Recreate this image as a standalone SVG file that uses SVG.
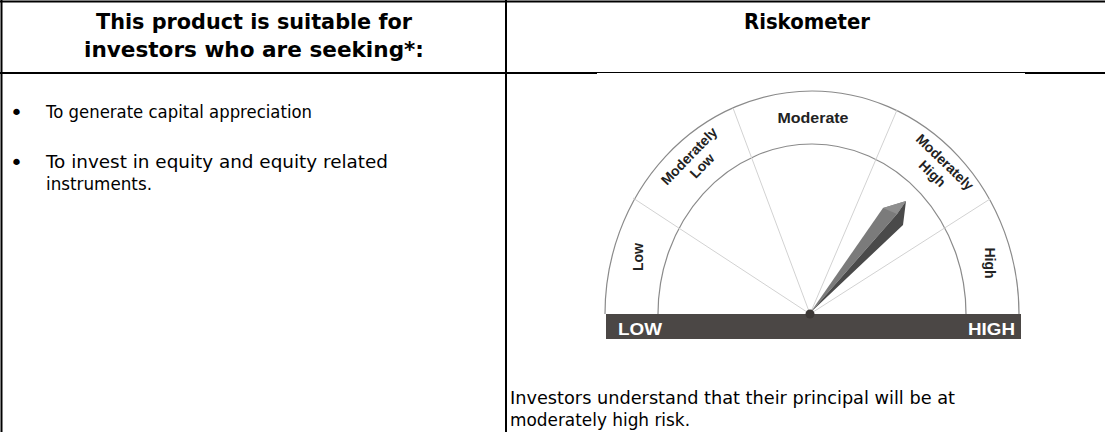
<svg xmlns="http://www.w3.org/2000/svg" width="1105" height="432" viewBox="0 0 1105 432">
<style>
.hd{font-family:"DejaVu Sans","Liberation Sans",sans-serif;font-weight:bold;font-size:21px;fill:#000;text-anchor:middle}
.bd{font-family:"DejaVu Sans","Liberation Sans",sans-serif;font-size:18px;fill:#000}
.bl{font-family:"DejaVu Sans","Liberation Sans",sans-serif;font-size:22px;fill:#000}
.rl{font-family:"Liberation Sans","Arial",sans-serif;font-weight:bold;font-size:14px;fill:#222;text-anchor:middle}
.bar{font-family:"Liberation Sans","Arial",sans-serif;font-weight:bold;font-size:16.5px;fill:#fff}
.grid{stroke:#000;stroke-width:2;fill:none}
.arc{stroke:#8a8a8a;stroke-width:1.2;fill:none}
.div{stroke:#d2d2d2;stroke-width:1}
</style>
<rect x="0" y="0" width="1105" height="432" fill="#fff"/>
<g id="table">
<line class="grid" x1="0" y1="1.5" x2="1105" y2="1.5"/>
<line class="grid" x1="1.5" y1="0" x2="1.5" y2="432"/>
<line class="grid" x1="506" y1="0" x2="506" y2="432"/>
<line class="grid" x1="0" y1="73" x2="597" y2="73"/>
<line class="grid" x1="1025" y1="73" x2="1105" y2="73"/>
<line stroke="#000" stroke-width="1" x1="597" y1="72.5" x2="1025" y2="72.5"/>
</g>
<g id="header-left">
<text class="hd" x="254" y="29" textLength="316" lengthAdjust="spacingAndGlyphs">This product is suitable for</text>
<text class="hd" x="254" y="57" textLength="340" lengthAdjust="spacingAndGlyphs">investors who are seeking*:</text>
</g>
<g id="header-right">
<text class="hd" x="807" y="29" textLength="126" lengthAdjust="spacingAndGlyphs">Riskometer</text>
</g>
<g id="objectives">
<text class="bl" x="10" y="120">•</text>
<text class="bd" x="46" y="118" textLength="266" lengthAdjust="spacingAndGlyphs">To generate capital appreciation</text>
<text class="bl" x="10" y="170">•</text>
<text class="bd" x="46" y="168" textLength="342" lengthAdjust="spacingAndGlyphs">To  invest in equity and equity related</text>
<text class="bd" x="46" y="190" textLength="106" lengthAdjust="spacingAndGlyphs">instruments.</text>
</g>
<g id="riskometer">
<path class="arc" d="M605 314 A207 223 0 0 1 1019 314"/>
<path class="arc" d="M658 314 A154 170 0 0 1 966 314"/>
<line class="div" x1="810" y1="314" x2="633" y2="198"/>
<line class="div" x1="810" y1="314" x2="733" y2="108"/>
<line class="div" x1="810" y1="314" x2="897" y2="110"/>
<line class="div" x1="810" y1="314" x2="990" y2="199"/>
<text class="rl" x="813" y="123" textLength="71" lengthAdjust="spacingAndGlyphs">Moderate</text>
<g transform="translate(689,156) rotate(-46)">
<text class="rl" x="0" y="5">Moderately</text>
<text class="rl" x="2" y="21">Low</text>
</g>
<g transform="translate(945,162) rotate(44)">
<text class="rl" x="0" y="5">Moderately</text>
<text class="rl" x="-1" y="22">High</text>
</g>
<text class="rl" transform="translate(637.5,257) rotate(-90)" x="0" y="5">Low</text>
<text class="rl" transform="translate(990,263) rotate(90)" x="0" y="5">High</text>
<rect x="606" y="314" width="415" height="25" fill="#4b4745"/>
<text class="bar" x="618" y="335" textLength="44" lengthAdjust="spacingAndGlyphs">LOW</text>
<text class="bar" x="968" y="335" textLength="47" lengthAdjust="spacingAndGlyphs">HIGH</text>
<g id="needle">
<polygon points="810,313 883,208 906,201 897,214" fill="#7b7b7b"/>
<polygon points="810,313 897,214 906,201 903,225" fill="#4a4a4a"/>
<polygon points="883,208 906,201 897,214" fill="#8e8e8e"/>
</g>
<circle cx="810" cy="314" r="4.5" fill="#3c3836"/>
</g>
<g id="note">
<text class="bd" x="510" y="404" textLength="445" lengthAdjust="spacingAndGlyphs">Investors understand that their principal will be at</text>
<text class="bd" x="510" y="426" textLength="180" lengthAdjust="spacingAndGlyphs">moderately high risk.</text>
</g>
</svg>
